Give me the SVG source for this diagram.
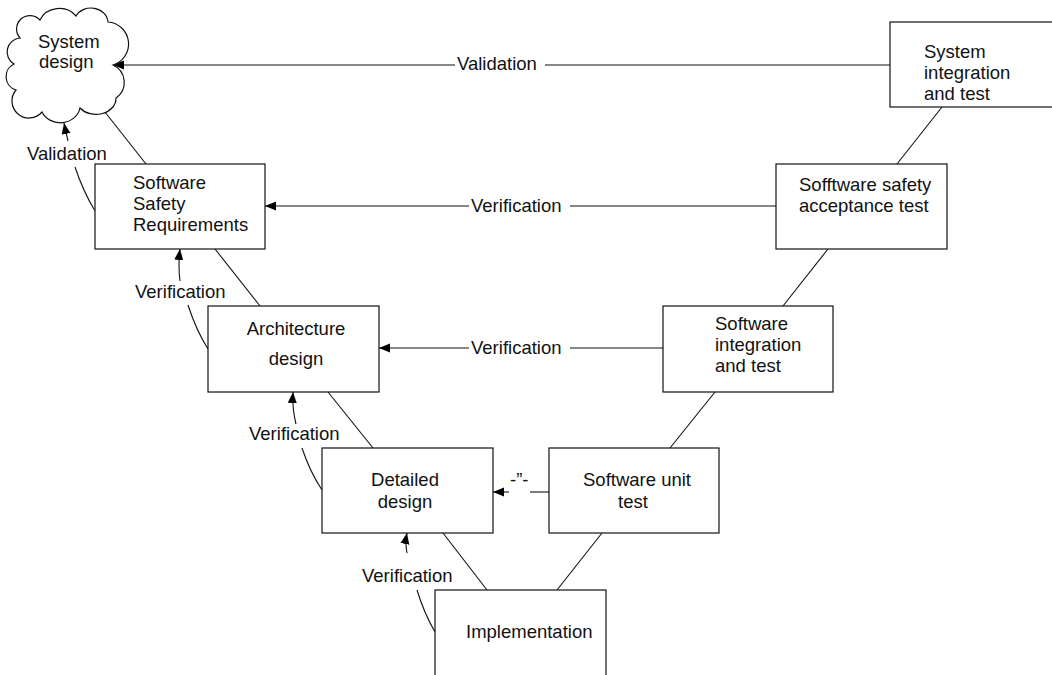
<svg xmlns="http://www.w3.org/2000/svg" width="1052" height="675" viewBox="0 0 1052 675">
  <style>
    text { font-family: "Liberation Sans", Arial, sans-serif; font-size: 18.5px; fill: #111; }
    .box { fill: #fff; stroke: #111; stroke-width: 1.2; }
    .line { fill: none; stroke: #111; stroke-width: 1.1; }
    .mid { text-anchor: middle; }
  </style>
  <defs>
    <marker id="arrow" markerUnits="userSpaceOnUse" markerWidth="12" markerHeight="10" refX="11" refY="4.5" orient="auto">
      <path d="M0,0 L11,4.5 L0,9 Z" fill="#000"/>
    </marker>
  </defs>

  <rect width="1052" height="675" fill="#fff"/>

  <!-- connectors -->
  <g id="connectors">
    <!-- V-shape links between neighbouring phases -->
    <path class="line" d="M101,107 L146,164"/>
    <path class="line" d="M215,249 L260,306"/>
    <path class="line" d="M328,392 L373,448"/>
    <path class="line" d="M443,533 L487,590"/>
    <path class="line" d="M942,107 L897,164"/>
    <path class="line" d="M828,249 L783,306"/>
    <path class="line" d="M715,392 L670,448"/>
    <path class="line" d="M602,533 L557,590"/>

    <!-- horizontal validation / verification arrows -->
    <path class="line" d="M890,65 L545,65"/>
    <path class="line" d="M455,65 L113,65" marker-end="url(#arrow)"/>
    <text x="457" y="70">Validation</text>

    <path class="line" d="M776,206 L570,206"/>
    <path class="line" d="M469,206 L265,206" marker-end="url(#arrow)"/>
    <text x="471" y="212">Verification</text>

    <path class="line" d="M663,348 L570,348"/>
    <path class="line" d="M469,348 L379,348" marker-end="url(#arrow)"/>
    <text x="471" y="354">Verification</text>

    <path class="line" d="M549,492 L530,492"/>
    <path class="line" d="M509,492 L493,492" marker-end="url(#arrow)"/>
    <text x="510" y="486">-”-</text>

    <!-- curved arrows on the left branch -->
    <path class="line" d="M95,211 Q83,191 75,167"/>
    <path class="line" d="M68,141 Q66,133 64,123" marker-end="url(#arrow)"/>
    <text x="27" y="160">Validation</text>

    <path class="line" d="M208,349 Q196,330 188,305"/>
    <path class="line" d="M180,281 Q178,266 180,249" marker-end="url(#arrow)"/>
    <text x="135" y="298">Verification</text>

    <path class="line" d="M322,490 Q310,472 302,448"/>
    <path class="line" d="M296,424 Q292,408 293,392" marker-end="url(#arrow)"/>
    <text x="249" y="440">Verification</text>

    <path class="line" d="M435,632 Q424,613 417,590"/>
    <path class="line" d="M407,553 Q405,543 407,533" marker-end="url(#arrow)"/>
    <text x="362" y="582">Verification</text>
  </g>

  <!-- nodes -->
  <g id="system-design">
    <path class="box" d="M14,64 A14,14 0 0 1 20,38 A13,13 0 0 1 40,20 A21,19 0 0 1 76,16 A17,15 0 0 1 108,22 A22,22 0 0 1 113,65 A19,19 0 0 1 116,98 A20,16 0 0 1 80,108 A20,18 0 0 1 42,112 A15,15 0 0 1 16,90 A14,14 0 0 1 14,64 Z"/>
    <text x="38" y="48">System</text>
    <text x="39" y="68">design</text>
  </g>

  <g id="software-safety-requirements">
    <rect class="box" x="95" y="164" width="170" height="85"/>
    <text x="133" y="189">Software</text>
    <text x="133" y="210">Safety</text>
    <text x="133" y="231">Requirements</text>
  </g>

  <g id="architecture-design">
    <rect class="box" x="208" y="306" width="171" height="86"/>
    <text class="mid" x="296" y="335">Architecture</text>
    <text class="mid" x="296" y="365">design</text>
  </g>

  <g id="detailed-design">
    <rect class="box" x="322" y="448" width="171" height="85"/>
    <text class="mid" x="405" y="486">Detailed</text>
    <text class="mid" x="405" y="508">design</text>
  </g>

  <g id="implementation">
    <rect class="box" x="435" y="590" width="171" height="120"/>
    <text x="466" y="638">Implementation</text>
  </g>

  <g id="software-unit-test">
    <rect class="box" x="549" y="448" width="170" height="85"/>
    <text class="mid" x="637" y="486">Software unit</text>
    <text class="mid" x="633" y="508">test</text>
  </g>

  <g id="software-integration-test">
    <rect class="box" x="663" y="306" width="170" height="86"/>
    <text x="715" y="330">Software</text>
    <text x="715" y="351">integration</text>
    <text x="715" y="372">and test</text>
  </g>

  <g id="software-safety-acceptance-test">
    <rect class="box" x="776" y="164" width="171" height="85"/>
    <text x="799" y="191">Sofftware safety</text>
    <text x="799" y="212">acceptance test</text>
  </g>

  <g id="system-integration-test">
    <rect class="box" x="890" y="22" width="172" height="85"/>
    <text x="924" y="58">System</text>
    <text x="924" y="79">integration</text>
    <text x="924" y="100">and test</text>
  </g>
</svg>
